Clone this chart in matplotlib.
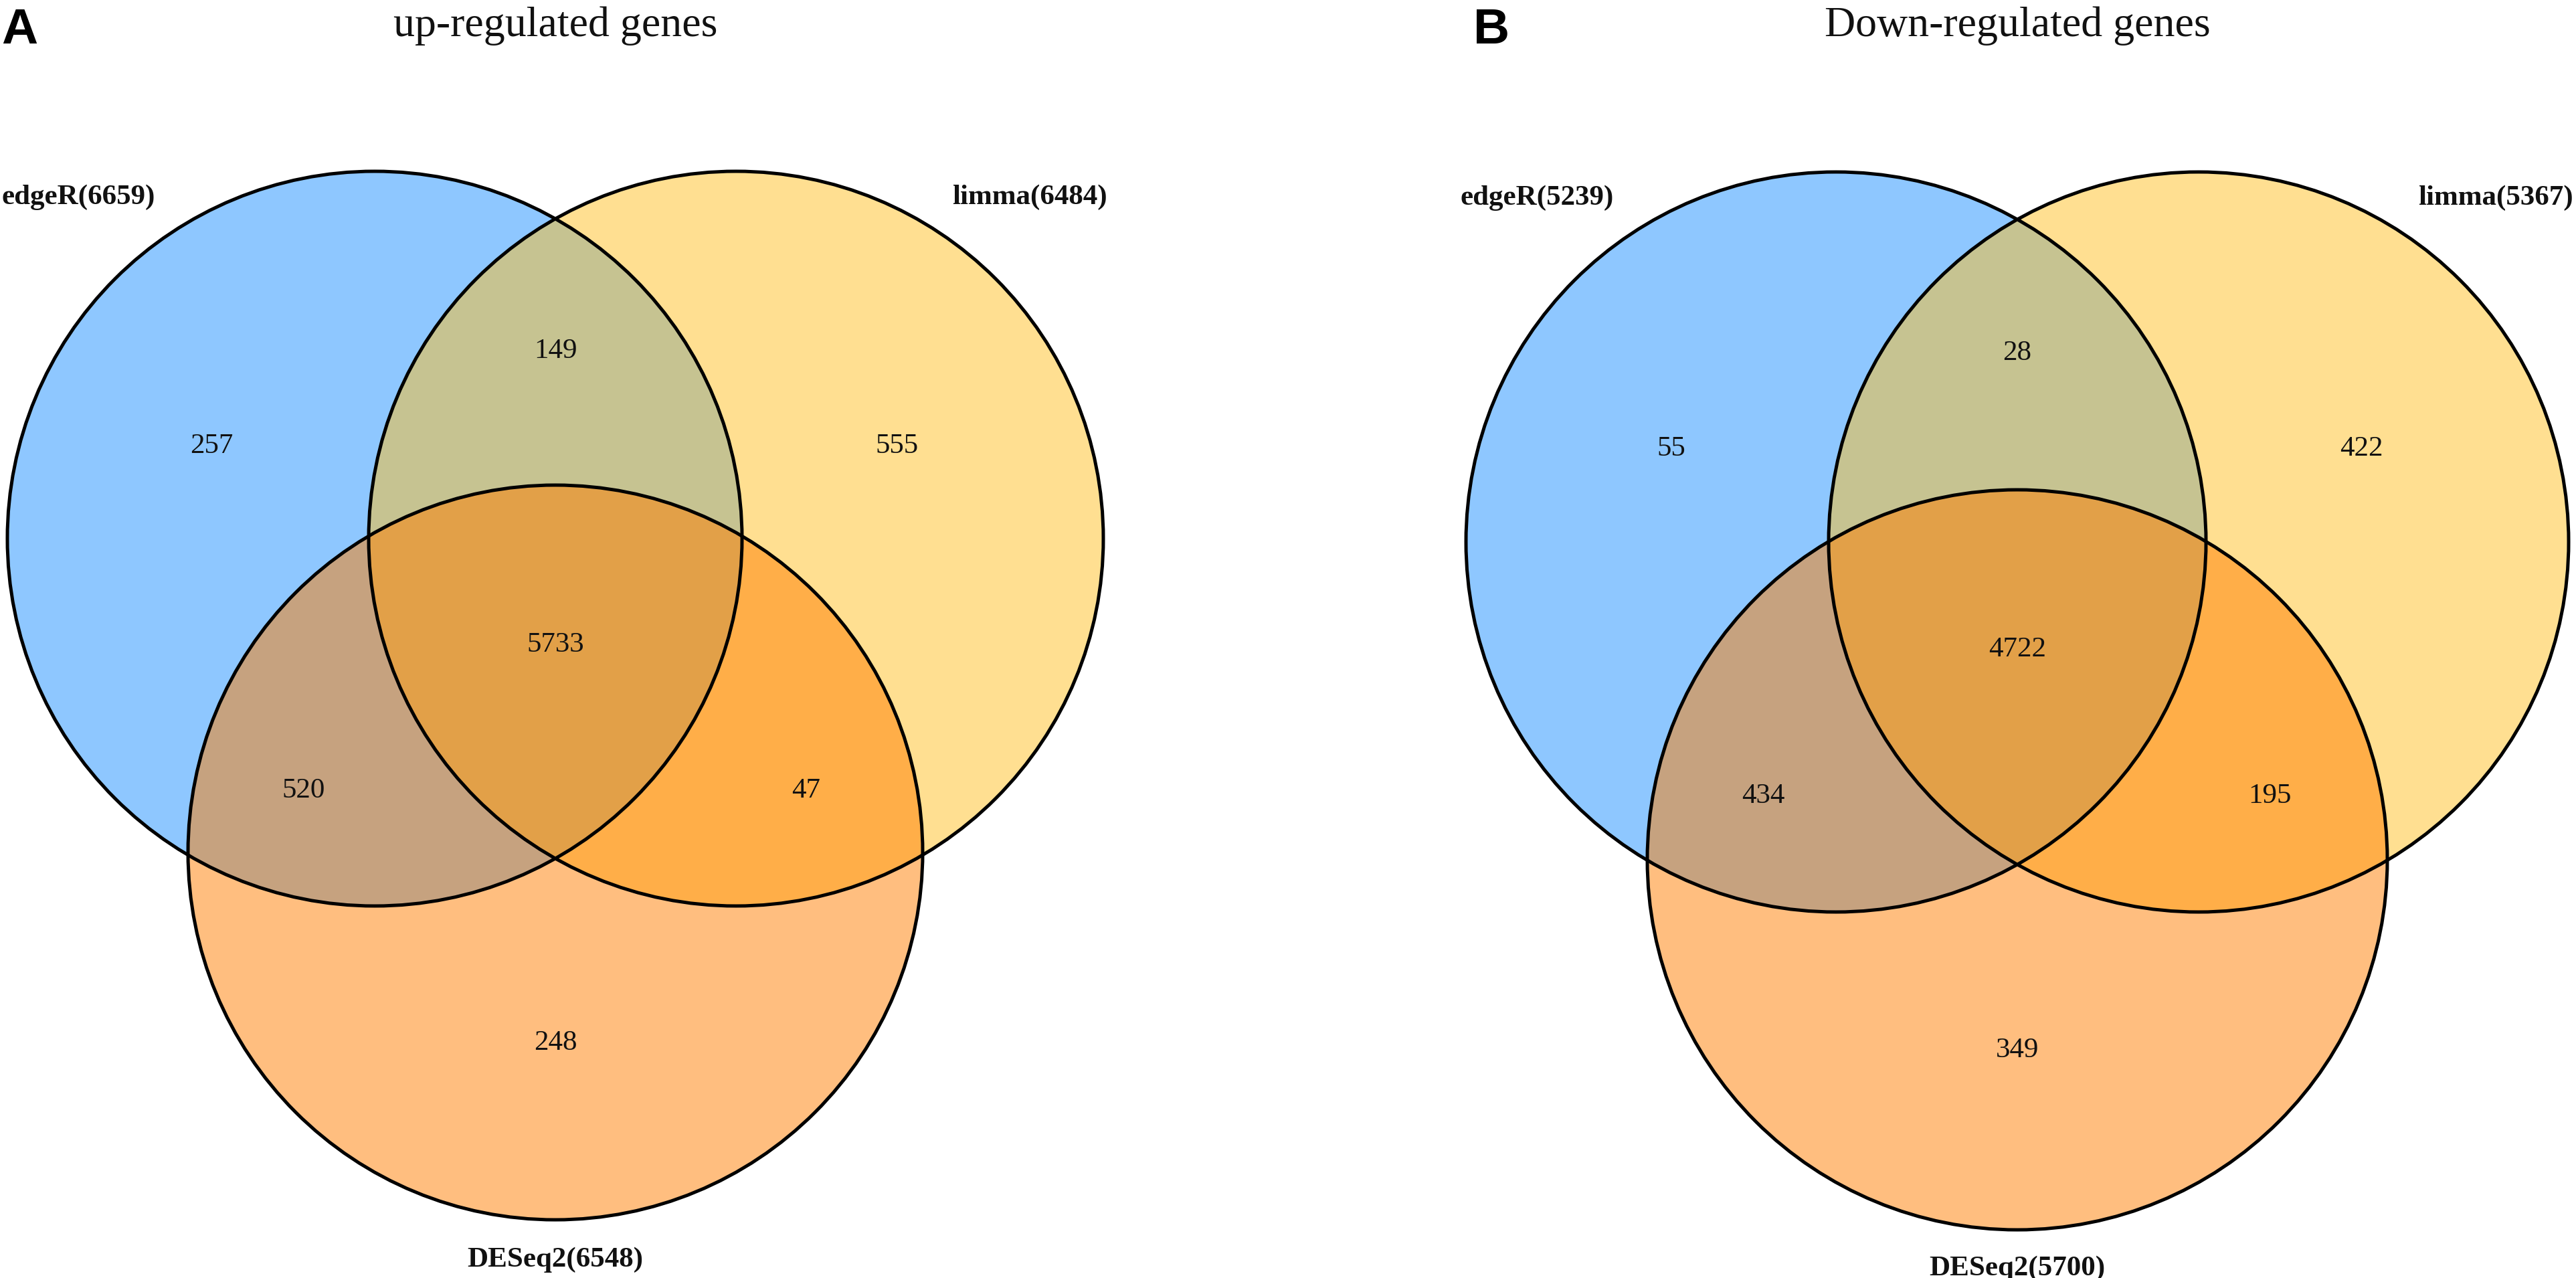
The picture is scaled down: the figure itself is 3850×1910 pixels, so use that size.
import matplotlib
matplotlib.use("Agg")
import matplotlib.pyplot as plt
from matplotlib.patches import Circle

# ---------------- data ----------------
set_names = ["edgeR", "limma", "DESeq2"]
# region order: edgeR only, limma only, DESeq2 only, edgeR&limma, edgeR&DESeq2, limma&DESeq2, all three
up_regions = [257, 555, 248, 149, 520, 47, 5733]
up_totals = [6659, 6484, 6548]
down_regions = [55, 422, 349, 28, 434, 195, 4722]
down_totals = [5239, 5367, 5700]
titles = ["up-regulated genes", "Down-regulated genes"]
panel_letters = ["A", "B"]
fill_colors = ["#1E90FF", "#FFC125", "#FF7F00"]   # dodgerblue, goldenrod1, darkorange1 (alpha 0.5)

# ---------------- layout (pixels) ----------------
W, H = 3850, 1910
DPI = 100
panels = [
    dict(cx=830, cy=805, r=549, dx=270, dy=469, letter_x=2),
    dict(cx=3015, cy=810, r=553, dx=271, dy=475, letter_x=2202),
]
# relative label offsets in units of r (from centre of top pair)
region_offsets = [(-0.935, -0.252), (0.93, -0.252), (0.0, 1.373),
                  (0.0, -0.51), (-0.686, 0.687), (0.683, 0.687), (0.0, 0.29)]
set_label_offsets = [(-1.298, -0.929), (1.292, -0.929), (0.0, 1.963)]

serif = ["Liberation Serif", "DejaVu Serif"]
sans = ["Liberation Sans", "DejaVu Sans"]

fig = plt.figure(figsize=(W / DPI, H / DPI), dpi=DPI)
ax = fig.add_axes([0, 0, 1, 1])
ax.set_xlim(0, W)
ax.set_ylim(H, 0)
ax.set_aspect("equal")
ax.axis("off")


def draw_venn(ax, p, regions, totals, title, letter):
    cx, cy, r, dx, dy = p["cx"], p["cy"], p["r"], p["dx"], p["dy"]
    centers = [(cx - dx, cy), (cx + dx, cy), (cx, cy + dy)]
    for (x, y), col in zip(centers, fill_colors):
        ax.add_patch(Circle((x, y), r, facecolor=col, alpha=0.5,
                            edgecolor="none", zorder=1))
    for (x, y) in centers:
        ax.add_patch(Circle((x, y), r, facecolor="none", edgecolor="black",
                            linewidth=3.6, zorder=3))
    for val, (ox, oy) in zip(regions, region_offsets):
        ax.text(cx + ox * r, cy + oy * r, str(val), ha="center", va="center",
                fontsize=31, family=serif, color="#111111", zorder=4)
    for name, tot, (ox, oy) in zip(set_names, totals, set_label_offsets):
        ax.text(cx + ox * r, cy + oy * r, f"{name}({tot})", ha="center",
                va="center", fontsize=31, family=serif, fontweight="bold",
                color="#111111", zorder=4)
    ax.text(cx, 54, title, ha="center", va="baseline", fontsize=46,
            family=serif, color="#111111")
    ax.text(p["letter_x"], 65, letter, ha="left", va="baseline", fontsize=54,
            family=sans, fontweight="bold", color="black")


draw_venn(ax, panels[0], up_regions, up_totals, titles[0], panel_letters[0])
draw_venn(ax, panels[1], down_regions, down_totals, titles[1], panel_letters[1])

fig.savefig("out.png", dpi=DPI, facecolor="white")
